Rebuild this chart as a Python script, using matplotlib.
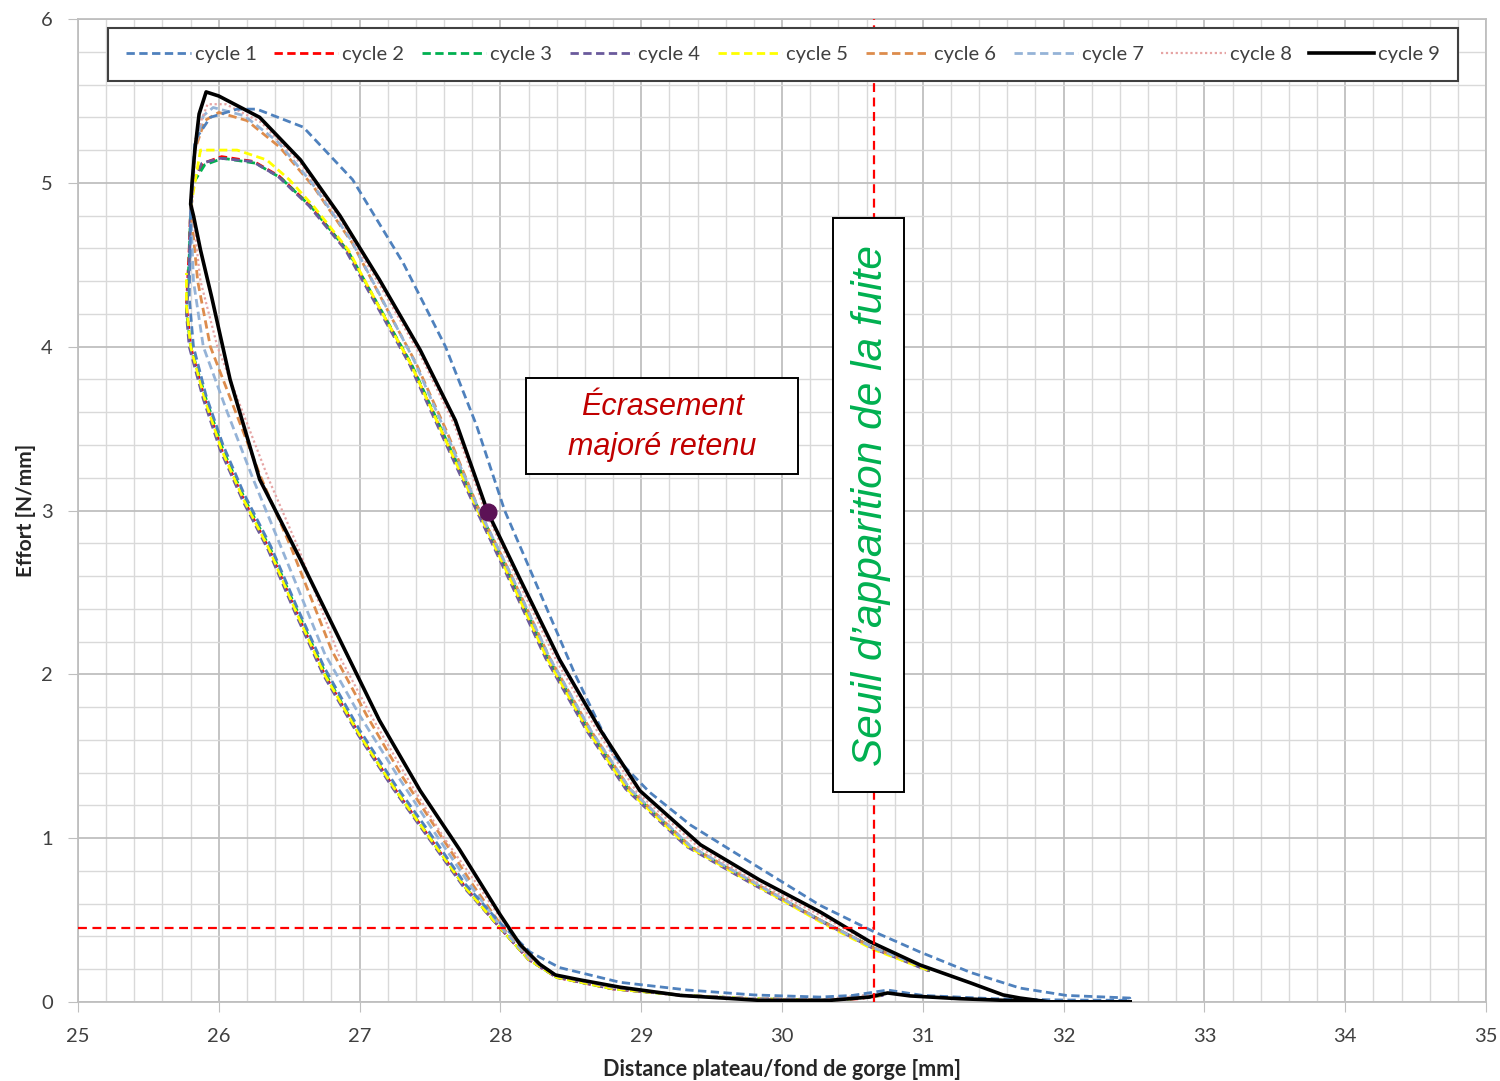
import numpy as np
import matplotlib
matplotlib.use("Agg")
import matplotlib.pyplot as plt
from matplotlib.patches import Rectangle

nan = np.nan

# cycle 1 : boucle complete
x1 = [25.80, 25.83, 25.94, 26.13, 26.27, 26.60, 26.95, 27.31, 27.61, 27.83, 28.03, 28.28, 28.53,
      28.81, 29.06, 29.35, 29.63, 29.95, 30.27, 30.65, 30.98, 31.34, 31.69, 32.02, 32.47,
      32.47, 32.00, 31.50, 31.00, 30.75, 30.50, 30.27, 29.80, 29.33, 28.85, 28.42, 28.21, 28.00,
      27.75, 27.50, 27.25, 27.00, 26.75, 26.55, 26.37, 26.18, 26.03, 25.91, 25.82, 25.79, 25.80]
y1 = [4.80, 5.26, 5.40, 5.45, 5.45, 5.34, 5.02, 4.51, 4.00, 3.52, 3.00, 2.50, 2.00,
      1.50, 1.28, 1.08, 0.93, 0.76, 0.59, 0.43, 0.305, 0.18, 0.085, 0.04, 0.024,
      0.01, 0.012, 0.02, 0.04, 0.073, 0.04, 0.03, 0.043, 0.073, 0.12, 0.21, 0.305, 0.48,
      0.72, 1.03, 1.33, 1.66, 2.04, 2.42, 2.78, 3.10, 3.40, 3.70, 4.00, 4.30, 4.80]

# cycles 2 a 8 : branche haute puis branche basse
x2 = [25.80, 25.81, 25.89, 26.02, 26.25, 26.43, 26.65, 26.91, 27.19, 27.36, 27.60, 27.84, 28.06,
      28.33, 28.62, 28.90, 29.33, 29.80, 30.27, 30.65, 31.05, nan,
      30.72, 30.55, 30.30, 29.80, 29.30, 28.80, 28.40, 28.20, 28.00, 27.75, 27.50, 27.25, 27.00,
      26.75, 26.55, 26.36, 26.18, 26.02, 25.90, 25.80, 25.77, 25.79, 25.80]
y2 = [4.85, 5.00, 5.12, 5.16, 5.13, 5.04, 4.86, 4.59, 4.16, 3.90, 3.45, 3.00, 2.60,
      2.10, 1.66, 1.30, 0.95, 0.72, 0.50, 0.33, 0.19, nan,
      0.045, 0.02, 0.01, 0.02, 0.04, 0.08, 0.15, 0.26, 0.45, 0.70, 1.00, 1.30, 1.63,
      2.00, 2.38, 2.76, 3.06, 3.37, 3.68, 4.00, 4.25, 4.60, 4.85]

x3 = [25.80, 25.82, 25.90, 26.03, 26.26, 26.44, 26.66, 26.92, 27.20, 27.37, 27.61, 27.85, 28.07,
      28.34, 28.63, 28.91, 29.34, 29.81, 30.27, 30.65, 31.05, nan,
      30.70, 30.50, 30.30, 29.80, 29.30, 28.80, 28.40, 28.20, 28.00, 27.75, 27.50, 27.25, 27.00,
      26.76, 26.56, 26.37, 26.19, 26.03, 25.91, 25.80, 25.77, 25.79, 25.80]
y3 = [4.85, 5.00, 5.11, 5.15, 5.12, 5.03, 4.85, 4.58, 4.15, 3.89, 3.44, 3.00, 2.60,
      2.10, 1.66, 1.30, 0.95, 0.72, 0.50, 0.33, 0.19, nan,
      0.04, 0.02, 0.01, 0.02, 0.04, 0.08, 0.15, 0.26, 0.45, 0.70, 1.00, 1.30, 1.63,
      2.00, 2.38, 2.76, 3.06, 3.37, 3.68, 4.00, 4.22, 4.55, 4.85]

x4 = [25.80, 25.81, 25.88, 26.01, 26.24, 26.42, 26.64, 26.90, 27.18, 27.35, 27.59, 27.83, 28.05,
      28.32, 28.61, 28.89, 29.32, 29.79, 30.26, 30.64, 31.04, nan,
      30.72, 30.50, 30.30, 29.80, 29.30, 28.80, 28.40, 28.20, 28.00, 27.74, 27.49, 27.24, 26.99,
      26.74, 26.54, 26.35, 26.17, 26.01, 25.89, 25.79, 25.77, 25.79, 25.80]
y4 = [4.85, 5.00, 5.12, 5.15, 5.13, 5.04, 4.86, 4.59, 4.16, 3.90, 3.45, 3.00, 2.60,
      2.10, 1.66, 1.30, 0.95, 0.72, 0.50, 0.33, 0.19, nan,
      0.04, 0.02, 0.01, 0.02, 0.04, 0.08, 0.15, 0.26, 0.45, 0.70, 1.00, 1.30, 1.63,
      2.00, 2.38, 2.76, 3.06, 3.37, 3.68, 4.00, 4.20, 4.50, 4.85]

x5 = [25.80, 25.84, 25.87, 26.13, 26.34, 26.50, 26.68, 26.92, 27.19, 27.36, 27.60, 27.84, 28.06,
      28.33, 28.62, 28.90, 29.33, 29.80, 30.27, 30.65, 31.05, nan,
      30.70, 30.50, 30.30, 29.80, 29.30, 28.80, 28.40, 28.20, 28.00, 27.75, 27.50, 27.25, 27.00,
      26.75, 26.55, 26.36, 26.18, 26.02, 25.90, 25.80, 25.77, 25.77]
y5 = [4.85, 5.05, 5.20, 5.20, 5.14, 5.02, 4.85, 4.59, 4.16, 3.90, 3.45, 3.00, 2.60,
      2.10, 1.66, 1.30, 0.95, 0.72, 0.49, 0.32, 0.19, nan,
      0.04, 0.02, 0.01, 0.02, 0.04, 0.08, 0.15, 0.26, 0.45, 0.70, 1.00, 1.30, 1.63,
      2.00, 2.38, 2.76, 3.06, 3.37, 3.68, 4.00, 4.25, 4.45]

x6 = [25.80, 25.83, 25.90, 26.00, 26.20, 26.43, 26.67, 26.95, 27.20, 27.40, 27.62, 27.85, 28.08,
      28.35, 28.64, 28.92, 29.35, 29.82, 30.27, 30.65, 31.05, nan,
      30.72, 30.30, 29.80, 29.30, 28.80, 28.40, 28.20, 28.02, 27.80, 27.55, 27.30, 27.05, 26.80,
      26.52, 26.30, 26.12, 25.94, 25.85, 25.80]
y6 = [4.85, 5.20, 5.38, 5.43, 5.38, 5.22, 4.98, 4.63, 4.22, 3.90, 3.48, 3.00, 2.60,
      2.10, 1.66, 1.30, 0.95, 0.72, 0.50, 0.33, 0.20, nan,
      0.05, 0.015, 0.02, 0.04, 0.09, 0.16, 0.27, 0.45, 0.72, 1.05, 1.38, 1.75, 2.15,
      2.76, 3.20, 3.60, 4.00, 4.40, 4.85]

x7 = [25.80, 25.83, 25.89, 25.96, 26.18, 26.42, 26.66, 26.94, 27.19, 27.39, 27.61, 27.85, 28.08,
      28.35, 28.64, 28.92, 29.35, 29.82, 30.27, 30.65, 31.05, nan,
      30.72, 30.30, 29.80, 29.30, 28.80, 28.40, 28.20, 28.01, 27.78, 27.52, 27.27, 27.00, 26.75,
      26.45, 26.24, 26.06, 25.89, 25.82, 25.80]
y7 = [4.85, 5.22, 5.41, 5.46, 5.41, 5.25, 5.00, 4.65, 4.24, 3.91, 3.48, 3.00, 2.60,
      2.10, 1.66, 1.30, 0.95, 0.72, 0.50, 0.33, 0.20, nan,
      0.05, 0.015, 0.02, 0.04, 0.09, 0.16, 0.27, 0.45, 0.72, 1.05, 1.38, 1.75, 2.13,
      2.76, 3.20, 3.60, 4.00, 4.40, 4.85]

x8 = [25.81, 25.84, 25.92, 26.05, 26.30, 26.58, 26.86, 27.14, 27.43, 27.67, 27.89, 28.12, 28.40,
      28.69, 28.97, 29.40, 29.82, 30.27, 30.65, 31.05, nan,
      30.72, 30.30, 29.80, 29.30, 28.80, 28.40, 28.20, 28.05, 27.85, 27.60, 27.35, 27.08, 26.85,
      26.57, 26.35, 26.17, 25.99, 25.87, 25.81]
y8 = [4.85, 5.30, 5.48, 5.48, 5.37, 5.12, 4.78, 4.38, 3.95, 3.53, 3.00, 2.58, 2.08,
      1.65, 1.28, 0.95, 0.73, 0.53, 0.35, 0.20, nan,
      0.05, 0.015, 0.02, 0.04, 0.09, 0.16, 0.27, 0.45, 0.70, 1.00, 1.35, 1.75, 2.12,
      2.76, 3.20, 3.60, 4.00, 4.40, 4.85]

# cycle 9 : boucle complete
x9 = [32.47, 31.90, 31.26, 30.91, 30.75, 30.62, 30.34, 29.84, 29.28, 28.85, 28.57, 28.39, 28.28,
      28.14, 28.00, 27.71, 27.43, 27.14, 26.86, 26.58, 26.29, 26.08, 25.95, 25.87, 25.82, 25.80,
      25.81, 25.83, 25.86, 25.91, 26.00, 26.29, 26.58, 26.86, 27.14, 27.43, 27.68, 27.91, 28.14,
      28.42, 28.71, 28.99, 29.42, 29.84, 30.27, 30.62, 30.98, 31.34, 31.57, 31.69, 31.90, 32.47]
y9 = [0.0, 0.0, 0.02, 0.037, 0.055, 0.03, 0.01, 0.01, 0.04, 0.09, 0.134, 0.165, 0.23,
      0.35, 0.53, 0.93, 1.29, 1.72, 2.21, 2.70, 3.19, 3.80, 4.30, 4.59, 4.80, 4.87,
      5.00, 5.20, 5.42, 5.555, 5.53, 5.40, 5.14, 4.80, 4.41, 3.98, 3.55, 2.99, 2.58,
      2.09, 1.66, 1.29, 0.96, 0.745, 0.55, 0.37, 0.226, 0.116, 0.043, 0.024, 0.0, 0.0]

labels = ["cycle 1", "cycle 2", "cycle 3", "cycle 4", "cycle 5",
          "cycle 6", "cycle 7", "cycle 8", "cycle 9"]
colors = ["#4f81bd", "#ff0000", "#00b050", "#6a5a9c", "#ffff00",
          "#dd8c4c", "#95b3d7", "#e6a4a4", "#000000"]

seuil_x = 30.65
seuil_y = 0.45
point_x, point_y = 27.91, 2.99

plt.rcParams['font.family'] = ['Lato', 'DejaVu Sans']

fig = plt.figure(figsize=(15, 10.81), dpi=100)
ax = fig.add_axes([0.052, 0.0731, 0.9387, 0.9093])

xs = [x1, x2, x3, x4, x5, x6, x7, x8, x9]
ys = [y1, y2, y3, y4, y5, y6, y7, y8, y9]
handles = []
for i in range(9):
    if i == 8:
        ln, = ax.plot(xs[i], ys[i], color=colors[i], lw=2.6, zorder=5,
                      solid_joinstyle='round')
    elif i == 7:
        ln, = ax.plot(xs[i], ys[i], color=colors[i], lw=1.6, zorder=3,
                      linestyle=(0, (1, 1.2)))
    else:
        ln, = ax.plot(xs[i], ys[i], color=colors[i], lw=2.0, zorder=3 + (i == 0),
                      linestyle=(0, (3, 1.6)))
    handles.append(ln)

# seuils
ax.plot([25, seuil_x], [seuil_y, seuil_y], color="#ff0000", lw=1.6, ls=(0, (4, 2.5)), zorder=6)
ax.plot([seuil_x, seuil_x], [0, 6], color="#ff0000", lw=1.6, ls=(0, (4, 2.5)), zorder=6)
ax.plot([point_x], [point_y], 'o', color="#5c1256", ms=12, zorder=7)

# encadres
ax.add_patch(Rectangle((28.182, 3.223), 1.932, 0.587, facecolor="white",
                       edgecolor="black", lw=1.4, zorder=8))
ax.text(29.148, 3.51, "Écrasement\nmajoré retenu", color="#c00000", fontsize=22,
        style="italic", family=["Liberation Sans", "DejaVu Sans"], ha="center",
        va="center", linespacing=1.4, zorder=9)
ax.add_patch(Rectangle((30.362, 1.282), 0.504, 3.504, facecolor="white",
                       edgecolor="black", lw=1.4, zorder=8))
ax.text(30.63, 3.03, "Seuil d\u2019apparition de la fuite", color="#00b050", fontsize=30.5,
        style="italic", family=["Liberation Sans", "DejaVu Sans"], rotation=90,
        ha="center", va="center", zorder=9)

ax.set_xlim(25, 35)
ax.set_ylim(0, 6)
ax.set_xticks(np.arange(25, 36, 1))
ax.set_yticks(np.arange(0, 7, 1))
ax.set_xticks(np.arange(25, 35.01, 0.2), minor=True)
ax.set_yticks(np.arange(0, 6.01, 0.2), minor=True)
ax.grid(which="major", color="#bfbfbf", lw=1.3)
ax.grid(which="minor", color="#d9d9d9", lw=1.0)
ax.set_axisbelow(True)
ax.tick_params(which="major", length=7, color="#bfbfbf", labelsize=14.5,
               labelcolor="#404040")
ax.tick_params(axis="x", which="major", pad=12)
ax.tick_params(axis="y", which="major", pad=11)
ax.tick_params(which="minor", length=0)
for s in ax.spines.values():
    s.set_color("#bfbfbf")
    s.set_linewidth(1.3)

ax.set_xlabel("Distance plateau/fond de gorge [mm]", fontsize=15.5, fontweight="bold",
              labelpad=10, color="#262626")
ax.set_ylabel("Effort [N/mm]", fontsize=15, fontweight="bold", labelpad=4,
              color="#262626")

leg = ax.legend(handles, labels, ncol=9, loc="upper left", mode="expand",
                bbox_to_anchor=(0.0213, 0.935, 0.9587, 0.056), fontsize=14.5,
                frameon=True, fancybox=False, framealpha=1, edgecolor="#404040",
                handlelength=3.2, handletextpad=0.2, columnspacing=0.9,
                borderpad=0.9, borderaxespad=0)
leg.get_frame().set_linewidth(1.5)
leg.set_zorder(10)
for t in leg.get_texts():
    t.set_color("#404040")

fig.savefig("out.png", dpi=100)
